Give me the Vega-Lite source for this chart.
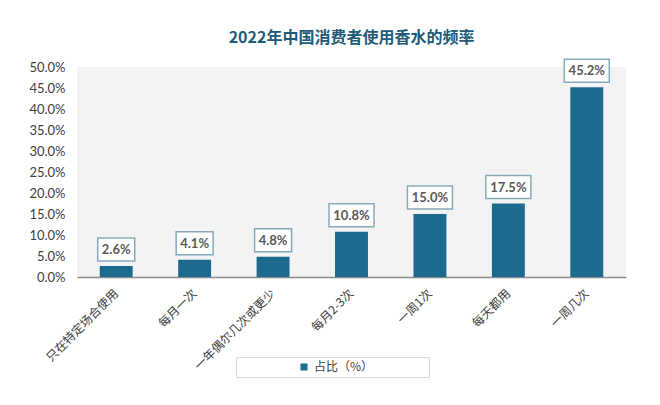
{
  "$schema": "https://vega.github.io/schema/vega-lite/v6.json",
  "width": 660,
  "height": 405,
  "autosize": {"type": "fit", "contains": "padding"},
  "padding": {"left": 28, "right": 34, "top": 33, "bottom": 33},
  "background": "white",
  "title": {
    "text": "2022年中国消费者使用香水的频率",
    "font": "Noto Sans CJK SC",
    "fontSize": 16,
    "fontWeight": "bold",
    "color": "#215a78",
    "anchor": "middle",
    "offset": 12
  },
  "config": {
    "view": {"fill": "#f3f3f3", "stroke": null},
    "axis": {"labelFont": "Lato", "labelColor": "#404040"}
  },
  "data": {
    "values": [
      {"category": "只在特定场合使用", "value": 0.026, "label": "2.6%", "series": "占比（%）"},
      {"category": "每月一次", "value": 0.041, "label": "4.1%", "series": "占比（%）"},
      {"category": "一年偶尔几次或更少", "value": 0.048, "label": "4.8%", "series": "占比（%）"},
      {"category": "每月2-3次", "value": 0.108, "label": "10.8%", "series": "占比（%）"},
      {"category": "一周1次", "value": 0.15, "label": "15.0%", "series": "占比（%）"},
      {"category": "每天都用", "value": 0.175, "label": "17.5%", "series": "占比（%）"},
      {"category": "一周几次", "value": 0.452, "label": "45.2%", "series": "占比（%）"}
    ]
  },
  "encoding": {
    "x": {
      "field": "category",
      "type": "nominal",
      "sort": null,
      "scale": {"paddingInner": 0.58, "paddingOuter": 0.29},
      "axis": {
        "title": null,
        "labelAngle": -45,
        "labelAlign": "right",
        "labelBaseline": "middle",
        "labelFont": "Noto Sans CJK SC",
        "labelFontSize": 12,
        "labelColor": "#404040",
        "labelPadding": 14,
        "ticks": false,
        "domainColor": "#8c8c8c",
        "domainWidth": 1.5
      }
    },
    "y": {
      "field": "value",
      "type": "quantitative",
      "scale": {"domain": [0, 0.5]},
      "axis": {
        "title": null,
        "format": ".1%",
        "values": [0, 0.05, 0.1, 0.15, 0.2, 0.25, 0.3, 0.35, 0.4, 0.45, 0.5],
        "labelOverlap": false,
        "labelFontSize": 13,
        "grid": false,
        "ticks": false,
        "domain": false,
        "labelPadding": 12
      }
    }
  },
  "layer": [
    {
      "mark": {"type": "bar", "color": "#1c6a8e"},
      "encoding": {
        "color": {
          "field": "series",
          "type": "nominal",
          "scale": {"range": ["#1c6a8e"]},
          "legend": {
            "title": " ",
            "titleOrient": "right",
            "titlePadding": 52,
            "orient": "none",
            "legendX": 159,
            "legendY": 290,
            "symbolType": "square",
            "symbolSize": 50,
            "labelFont": "Noto Sans CJK SC",
            "labelFontSize": 12,
            "labelColor": "#404040",
            "strokeColor": "#d9d9d9",
            "padding": 4,
            "symbolOffset": 58
          }
        }
      }
    },
    {
      "mark": {"type": "bar", "fill": "white", "stroke": "#86aabb", "strokeWidth": 1.5, "yOffset": -28, "y2Offset": -5},
      "encoding": {
        "y2": {"field": "value"},
        "size": {"condition": {"test": "datum.value >= 0.1", "value": 45}, "value": 37}
      }
    },
    {
      "mark": {"type": "text", "font": "Lato", "fontSize": 13, "fontWeight": "bold", "color": "#595959", "dy": -16, "baseline": "middle"},
      "encoding": {
        "text": {"field": "label"}
      }
    }
  ]
}
